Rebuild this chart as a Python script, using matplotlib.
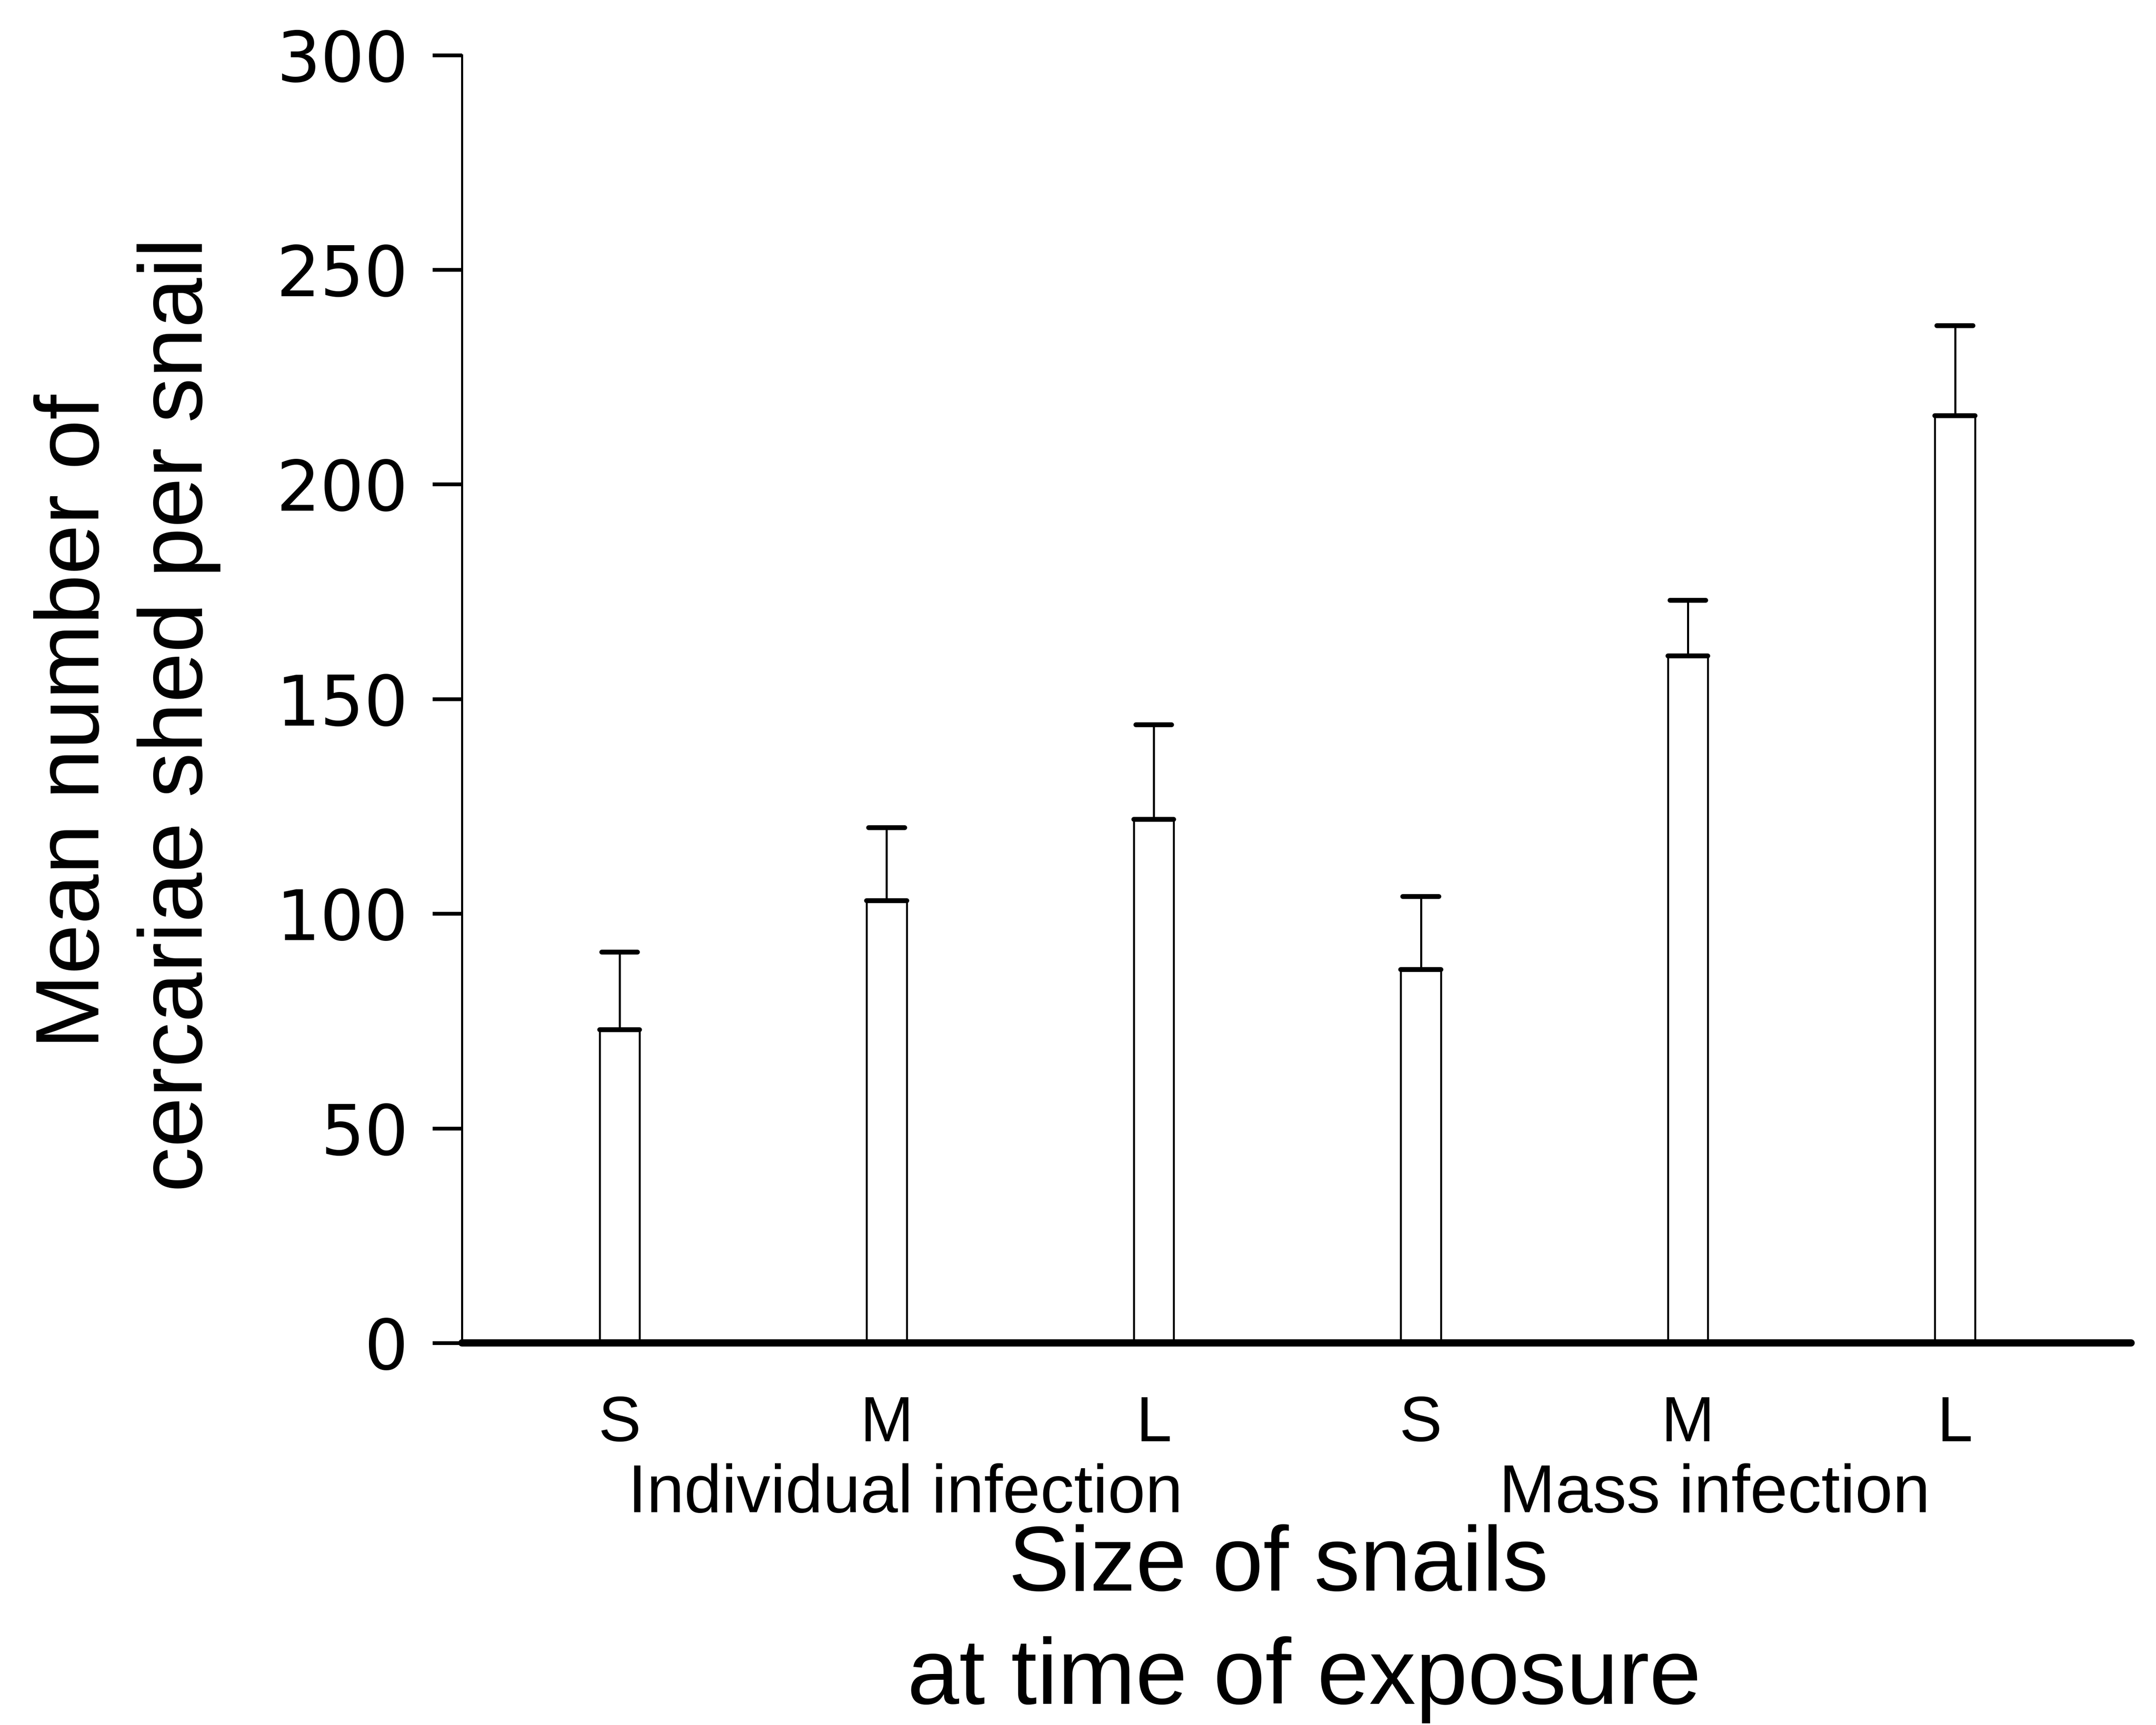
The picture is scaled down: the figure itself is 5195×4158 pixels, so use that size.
import matplotlib
matplotlib.use("Agg")
import matplotlib.pyplot as plt
import matplotlib.transforms as mtransforms
import numpy as np

plt.rcParams['font.family'] = ['Liberation Sans', 'DejaVu Sans']

# Cercariae shed per snail by snail size and infection method
sizes = ["S", "M", "L", "S", "M", "L"]
groups = ["Individual infection", "Mass infection"]
means = [73, 103, 122, 87, 160, 216]
sem = [18, 17, 22, 17, 13, 21]
yticks = [0, 50, 100, 150, 200, 250, 300]

fig = plt.figure(figsize=(5195 / 300, 4158 / 300), dpi=300)
ax = fig.add_axes([0.2143, 0.2215, 0.9885 - 0.2143, 0.9681 - 0.2215])

x = np.arange(len(means))
means_a = np.array(means, dtype=float)
tops = means_a + np.array(sem, dtype=float)
bw = 0.15

ax.bar(x, means_a, width=bw, facecolor="white", edgecolor="black",
       linewidth=1.1, zorder=2)
# heavier stroke along each bar's top
ax.hlines(means_a, x - bw / 2, x + bw / 2, colors="black", linewidth=2.8,
          zorder=3, capstyle="round")
# upper standard-error whiskers
ax.vlines(x, means_a, tops, colors="black", linewidth=1.2, zorder=3)
ax.hlines(tops, x - bw * 0.45, x + bw * 0.45, colors="black", linewidth=2.8,
          zorder=3, capstyle="round")

ax.set_xlim(-0.59, 5.66)
ax.set_ylim(0, 300)
ax.set_yticks(yticks)
ax.set_yticklabels([str(v) for v in yticks], fontsize=40, family="DejaVu Sans")
ax.tick_params(axis="y", direction="out", length=17, width=2.2, pad=14)

ax.set_xticks(x)
ax.set_xticklabels(sizes, fontsize=37)
ax.tick_params(axis="x", length=0, pad=30)

for side in ("top", "right"):
    ax.spines[side].set_visible(False)
ax.spines["left"].set_linewidth(1.2)
ax.spines["bottom"].set_linewidth(4.2)
ax.spines["bottom"].set_capstyle("round")

# group captions below the size labels
trans = mtransforms.blended_transform_factory(ax.transData, fig.transFigure)
ax.text(1.07, 0.1335, groups[0], transform=trans, ha="center", va="center",
        fontsize=39)
ax.text(4.10, 0.1335, groups[1], transform=trans, ha="center", va="center",
        fontsize=39)

fig.text(0.593, 0.0916, "Size of snails", ha="center", va="center", fontsize=53)
fig.text(0.605, 0.0263, "at time of exposure", ha="center", va="center",
         fontsize=54)

fig.text(0.035, 0.5817, "Mean number of", rotation=90, ha="center",
         va="center", fontsize=52)
fig.text(0.083, 0.5857, "cercariae shed per snail", rotation=90, ha="center",
         va="center", fontsize=52)

fig.savefig("out.png", dpi=300, facecolor="white")
